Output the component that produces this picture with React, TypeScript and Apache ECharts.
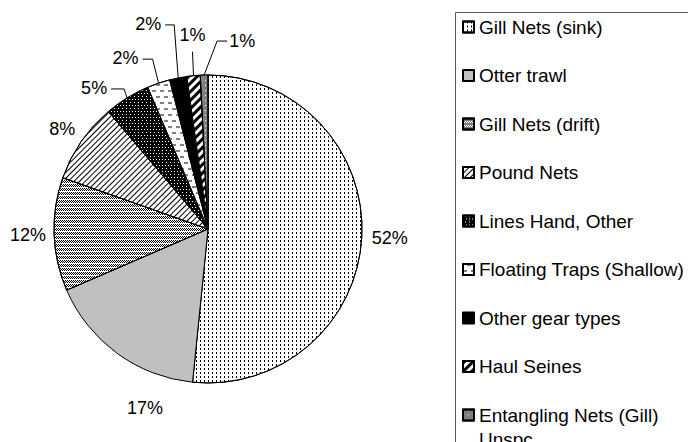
import React, { useEffect, useRef } from 'react';
import * as echarts from 'echarts';

const CATEGORIES = [
  'Gill Nets (sink)',
  'Otter trawl',
  'Gill Nets (drift)',
  'Pound Nets',
  'Lines Hand, Other',
  'Floating Traps (Shallow)',
  'Other gear types',
  'Haul Seines',
  'Entangling Nets (Gill) Unspc',
];
const VALUES = [51.6, 16.9, 11.9, 8.4, 4.8, 2.4, 1.8, 1.4, 0.8];

const FONT = '"Liberation Sans", Arial, Helvetica, sans-serif';
const CX = 208;
const CY = 229;
const R = 154;

// fill styles (solid colour or pattern decal) per slice
const FILLS: any[] = [
  { color: '#ffffff', decal: { symbol: 'rect', symbolSize: 1, color: '#000000', backgroundColor: '#ffffff', dashArrayX: [1, 3], dashArrayY: [2, 2] } },
  { color: '#c0c0c0', decal: 'none' },
  { color: '#ffffff', decal: { symbol: 'rect', symbolSize: 1, color: '#000000', backgroundColor: '#ffffff', dashArrayX: [[1, 1], [0, 1, 1, 0]], dashArrayY: [1, 0, 1, 0, 1, 1] } },
  { color: '#ffffff', decal: { symbol: 'rect', symbolSize: 1, color: '#000000', backgroundColor: '#ffffff', dashArrayX: [1, 0], dashArrayY: [1, 2.5], rotation: -Math.PI / 4 } },
  { color: '#000000', decal: { symbol: 'rect', symbolSize: 1, color: '#ffffff', backgroundColor: '#000000', dashArrayX: [[1, 2], [0, 1.5, 1, 0.5]], dashArrayY: [1, 1.5] } },
  { color: '#ffffff', decal: { symbol: 'rect', symbolSize: 1, color: '#808080', backgroundColor: '#ffffff', dashArrayX: [[4, 4], [0, 4, 4, 0]], dashArrayY: [1.2, 3.5] } },
  { color: '#000000', decal: 'none' },
  { color: '#ffffff', decal: { symbol: 'rect', symbolSize: 1, color: '#000000', backgroundColor: '#ffffff', dashArrayX: [1, 0], dashArrayY: [2.5, 2.5], rotation: -Math.PI / 4 } },
  { color: '#808080', decal: { symbol: 'rect', symbolSize: 1, color: '#ffffff', backgroundColor: '#808080', dashArrayX: [1, 4], dashArrayY: [1, 4] } },
];

// label placement: radial distance outside the rim, or offset from the rim point with a leader line
const PLACEMENT: any[] = [
  { radial: 28 },
  { dx: 28, dy: 55 },
  { radial: 26 },
  { radial: 23 },
  { dx: -33, dy: -10, leader: 'left', elbow: 13 },
  { dx: -33, dy: -25, leader: 'left', elbow: 10 },
  { dx: -30, dy: -54, leader: 'left', elbow: 9 },
  { dx: -1, dy: -41, leader: 'down' },
  { dx: 38, dy: -34, leader: 'right', elbow: 10 },
];

function midAngle(i: number): number {
  const total = VALUES.reduce((s, v) => s + v, 0);
  let c = 0;
  for (let j = 0; j < i; j++) c += VALUES[j];
  return ((c + VALUES[i] / 2) / total) * Math.PI * 2;
}

export default function App() {
  const ref = useRef<HTMLDivElement>(null);
  useEffect(() => {
    if (!ref.current) return;
    const chart = echarts.init(ref.current, null, { renderer: 'svg' });
    const last = CATEGORIES.length - 1;
    const option: any = {
      animation: false,
      backgroundColor: '#ffffff',
      textStyle: { fontFamily: FONT },
      legend: {
        orient: 'vertical',
        left: 462,
        top: -9,
        height: 2000,
        padding: 0,
        itemWidth: 11,
        itemHeight: 11,
        itemGap: -23.5,
        selectedMode: false,
        icon: 'rect',
        textStyle: {
          fontFamily: FONT,
          fontSize: 19,
          color: '#000000',
          lineHeight: 24,
        },
        data: CATEGORIES,
        // an empty first line keeps the first visible line level with the icon
        formatter: (name: string) =>
          name === CATEGORIES[last] ? '\nEntangling Nets (Gill)\nUnspc' : '\n' + name + '\n',
      },
      graphic: [
        {
          type: 'rect',
          shape: { x: 455.5, y: 12.5, width: 400, height: 600 },
          style: { fill: 'none', stroke: '#555555', lineWidth: 1 },
          silent: true,
        },
      ],
      series: [
        {
          type: 'pie',
          center: [CX, CY],
          radius: R,
          startAngle: 90,
          clockwise: true,
          avoidLabelOverlap: false,
          silent: true,
          emphasis: { scale: false },
          itemStyle: { borderColor: '#000000', borderWidth: 1 },
          label: {
            show: true,
            position: 'outside',
            fontFamily: FONT,
            fontSize: 18,
            color: '#000000',
            formatter: (p: any) => Math.round(p.value) + '%',
          },
          labelLine: { show: false, lineStyle: { color: '#000000', width: 1 } },
          labelLayout: (params: any) => {
            const i = params.dataIndex;
            const a = midAngle(i);
            const s = Math.sin(a);
            const c = Math.cos(a);
            const ex = CX + R * s;
            const ey = CY - R * c;
            const p = PLACEMENT[i];
            let lx: number;
            let ly: number;
            if (p.radial != null) {
              lx = CX + (R + p.radial) * s;
              ly = CY - (R + p.radial) * c;
            } else {
              lx = ex + p.dx;
              ly = ey + p.dy;
            }
            const out: any = { x: lx, y: ly, align: 'center', verticalAlign: 'middle' };
            if (p.leader === 'left') {
              const end = [lx + 17, ly + 1];
              out.labelLinePoints = [[ex, ey], [end[0] + p.elbow, end[1]], end];
            } else if (p.leader === 'right') {
              const end = [lx - 15, ly];
              out.labelLinePoints = [[ex, ey], [end[0] - p.elbow, end[1]], end];
            } else if (p.leader === 'down') {
              const end = [lx, ly + 17];
              out.labelLinePoints = [[ex, ey], end, end];
            }
            return out;
          },
          data: CATEGORIES.map((name, i) => ({
            name,
            value: VALUES[i],
            itemStyle: { color: FILLS[i].color, decal: FILLS[i].decal },
            labelLine: { show: !!PLACEMENT[i].leader },
          })),
        },
      ],
    };
    chart.setOption(option);
    return () => chart.dispose();
  }, []);
  return (
    <div
      ref={ref}
      style={{ position: 'fixed', left: 0, top: 0, width: 688, height: 442 }}
    />
  );
}
